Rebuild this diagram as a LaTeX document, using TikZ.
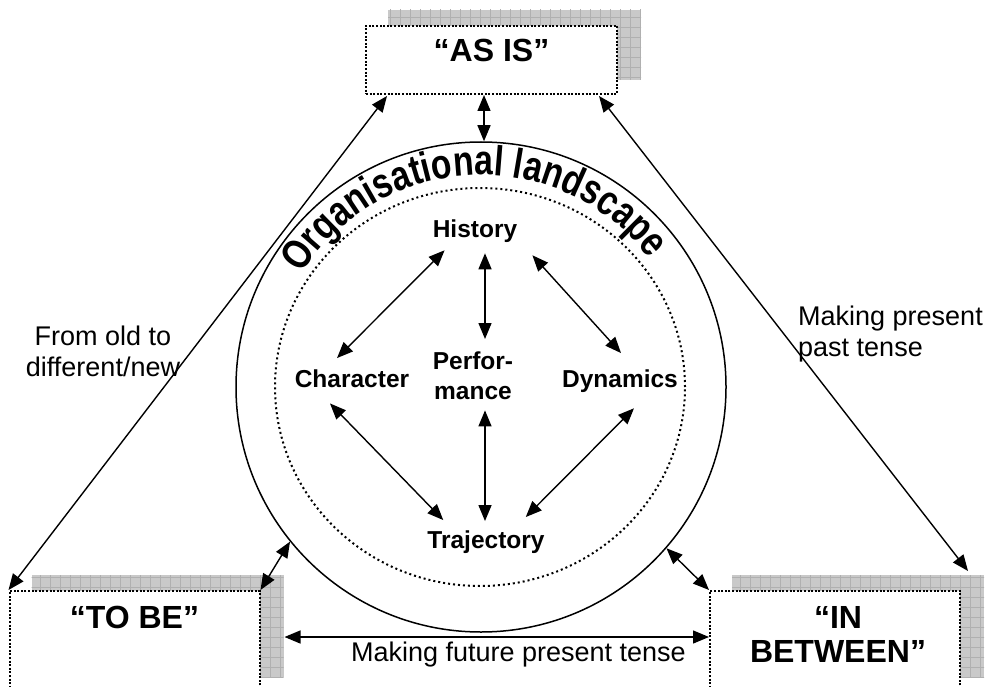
\documentclass[tikz,border=0pt]{standalone}
\usepackage{fontspec}
\setmainfont{Liberation Sans}
\newfontfamily\wordart[FakeStretch=0.8]{Liberation Sans}
\newcommand{\arcfont}{\wordart\bfseries\fontsize{42}{48}\selectfont}
\usetikzlibrary{arrows.meta, positioning, shapes.geometric, decorations.text, patterns.meta, backgrounds}

\begin{document}
\begin{tikzpicture}[
            x=1pt, y=-1pt,
            phasebox/.style={rectangle, draw, line width=2pt, dash pattern=on 2pt off 1.6pt, fill=white, minimum width=250, minimum height=100},
            phase/.style={font=\bfseries\fontsize{32}{34}\selectfont, inner sep=0pt, align=center},
            shadowfill/.style={fill=gray!42, postaction={pattern={Hatch[distance=10pt, line width=0.7pt]}, pattern color=gray!62}},
            factor/.style={font=\bfseries\fontsize{24.5}{30}\selectfont, inner sep=3pt},
            note/.style={font=\fontsize{27}{31}\selectfont, inner sep=0pt},
            arrow/.style={{Triangle[length=16pt, width=13pt]}-{Triangle[length=16pt, width=13pt]}, line width=1.4pt}
        ]
            \useasboundingbox (0,0) rectangle (990,687);

            \node[phasebox, minimum width=251, minimum height=68] (asis) at (491.5,60) {};
            \node[phasebox] (tobe) at (134.5,641) {};
            \node[phasebox] (inbetween) at (835,641) {};
            \node[phase, below=14pt of asis.north] (asis_text) {“AS IS”};
            \node[phase, below=16pt of tobe.north] (tobe_text) {“TO BE”};
            \node[phase, below=16pt of inbetween.north, xshift=3pt] (inbetween_text) {“IN\\BETWEEN”};

            \begin{scope}[on background layer]
                \foreach \b in {asis, tobe, inbetween}
                    \fill[shadowfill] ([shift={(23,-15)}]\b.south west) rectangle ([shift={(23,-15)}]\b.north east);
            \end{scope}

            \node[circle, draw, line width=1.5pt, minimum size=490] (landscape) at (481,387) {};
            \node[ellipse, draw, line width=2pt, dash pattern=on 2pt off 3pt, minimum width=410, minimum height=398] (core) at (480,387) {};
            \path[decorate, decoration={text along path, text align=center, text={|\arcfont|Organisational landscape}}]
                ([shift={(-155:212)}]landscape.center) arc[start angle=-155, end angle=-30, radius=212];

            \node[factor, anchor=base] (history) at (475,237) {History};
            \node[factor, anchor=base] (character) at (352,387) {Character};
            \node[factor, anchor=base] (dynamics) at (620,387) {Dynamics};
            \node[factor, anchor=north, align=center] (performance) at (473,349) {Perfor-\\mance};
            \node[factor, anchor=base] (trajectory) at (486,548) {Trajectory};

            \draw[arrow] ([shift={(15,5)}]history.south west) -- ([shift={(-15,-8)}]character.north);
            \draw[arrow] ([shift={(10,8)}]history.south) -- ([shift={(12,-10)}]performance.north);
            \draw[arrow] ([shift={(12,10)}]history.south east) -- ([shift={(1,-13)}]dynamics.north);
            \draw[arrow] ([shift={(-22,13)}]character.south) -- ([shift={(19,-7)}]trajectory.north west);
            \draw[arrow] ([shift={(12,7)}]performance.south) -- ([shift={(-1,-6)}]trajectory.north);
            \draw[arrow] ([shift={(14,13)}]dynamics.south) -- ([shift={(-22,-10)}]trajectory.north east);

            \draw[arrow] ([shift={(-7.5,0)}]asis.south) -- ([shift={(3,0)}]landscape.north);
            \draw[arrow] ([shift={(22,1)}]asis.south west) -- (tobe.north west);
            \draw[arrow] ([shift={(-19,1)}]asis.south east) -- ([shift={(7,-19)}]inbetween.north east);
            \draw[arrow] (tobe.north east) -- (landscape.219.5);
            \draw[arrow] (inbetween.north west) -- (landscape.319.5);
            \draw[arrow] ([shift={(24,-4)}]tobe.east) -- ([shift={(0,-4)}]inbetween.west);

            \node[note, align=center, anchor=north] (old_new) at (103,326) {From old to\\different/new};
            \node[note, align=left, anchor=north west] (present_past) at (798,306) {Making present\\past tense};
            \node[note, anchor=north east] (future_present) at (686,642) {Making future present tense};
        \end{tikzpicture}
\end{document}
